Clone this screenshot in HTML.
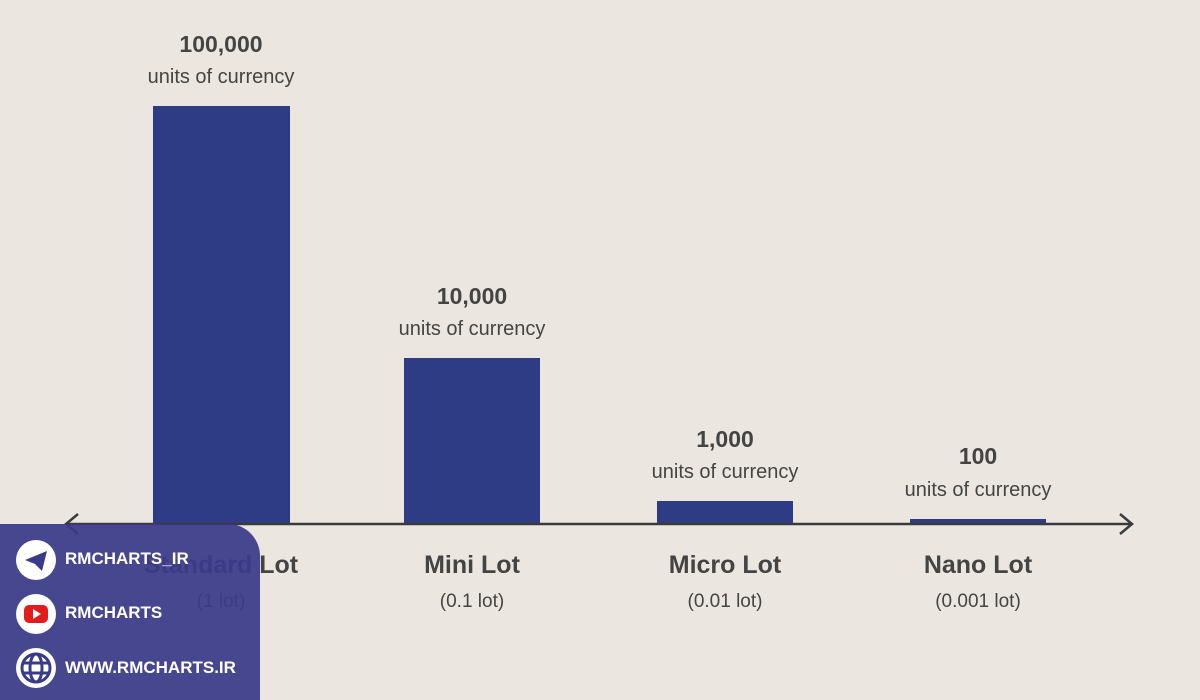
<!DOCTYPE html>
<html><head><meta charset="utf-8"><style>
body{margin:0;width:1200px;height:700px;background:#ebe7e0;position:relative;overflow:hidden;font-family:"Liberation Sans","DejaVu Sans",sans-serif;color:#444}
.bar{position:absolute;background:#2e3c85}
.t{position:absolute;text-align:center;width:260px}
.v{font-size:23px;font-weight:bold}
.u{font-size:20px}
.c{font-size:25px;font-weight:bold}
.s{font-size:19px}
.panel{position:absolute;left:0;top:524px;width:260px;height:176px;background:rgba(58,58,138,0.93);border-top-right-radius:32px}
.ic{position:absolute;left:16px;width:40px;height:40px;border-radius:50%;background:#fff}
.pt{position:absolute;left:65px;color:#fff;font-weight:bold;font-size:17px}
</style></head><body>
<div class="bar" style="left:153px;top:106px;width:137px;height:418px"></div>
<div class="bar" style="left:404px;top:358px;width:136px;height:166px"></div>
<div class="bar" style="left:657px;top:501px;width:136px;height:23px"></div>
<div class="bar" style="left:910px;top:519px;width:136px;height:5px"></div>
<svg style="position:absolute;left:0;top:0" width="1200" height="700">
<line x1="66" y1="524" x2="1132" y2="524" stroke="#3a3a3a" stroke-width="2.5"/>
<polyline points="78,514 66,524 78,534" fill="none" stroke="#3a3a3a" stroke-width="2.5"/>
<polyline points="1120,514 1132,524 1120,534" fill="none" stroke="#3a3a3a" stroke-width="2.5"/>
</svg>
<div class="t v" style="left:91px;top:31px">100,000</div>
<div class="t u" style="left:91px;top:66px">units of currency</div>
<div class="t v" style="left:342px;top:283px">10,000</div>
<div class="t u" style="left:342px;top:318px">units of currency</div>
<div class="t v" style="left:595px;top:426px">1,000</div>
<div class="t u" style="left:595px;top:461px">units of currency</div>
<div class="t v" style="left:848px;top:443px">100</div>
<div class="t u" style="left:848px;top:479px">units of currency</div>
<div class="t c" style="left:91px;top:551px">Standard Lot</div>
<div class="t s" style="left:91px;top:591px">(1 lot)</div>
<div class="t c" style="left:342px;top:551px">Mini Lot</div>
<div class="t s" style="left:342px;top:591px">(0.1 lot)</div>
<div class="t c" style="left:595px;top:551px">Micro Lot</div>
<div class="t s" style="left:595px;top:591px">(0.01 lot)</div>
<div class="t c" style="left:848px;top:551px">Nano Lot</div>
<div class="t s" style="left:848px;top:591px">(0.001 lot)</div>
<div class="panel"></div>
<div class="ic" style="top:540px"><svg width="40" height="40"><path d="M9 20 L31 11 L26 31 L19 24 Z" fill="#3a3a8a"/></svg></div>
<div class="ic" style="top:594px"><svg width="40" height="40"><rect x="8" y="11" width="24" height="18" rx="5" fill="#e31b1b"/><path d="M17 15 L25 20 L17 25Z" fill="#fff"/></svg></div>
<div class="ic" style="top:648px"><svg width="40" height="40"><circle cx="20" cy="20" r="14" fill="none" stroke="#3a3a8a" stroke-width="3"/><ellipse cx="20" cy="20" rx="6" ry="14" fill="none" stroke="#3a3a8a" stroke-width="3"/><line x1="6" y1="15" x2="34" y2="15" stroke="#3a3a8a" stroke-width="3"/><line x1="6" y1="25" x2="34" y2="25" stroke="#3a3a8a" stroke-width="3"/></svg></div>
<div class="pt" style="top:549px">RMCHARTS_IR</div>
<div class="pt" style="top:603px">RMCHARTS</div>
<div class="pt" style="top:658px">WWW.RMCHARTS.IR</div>
</body></html>
